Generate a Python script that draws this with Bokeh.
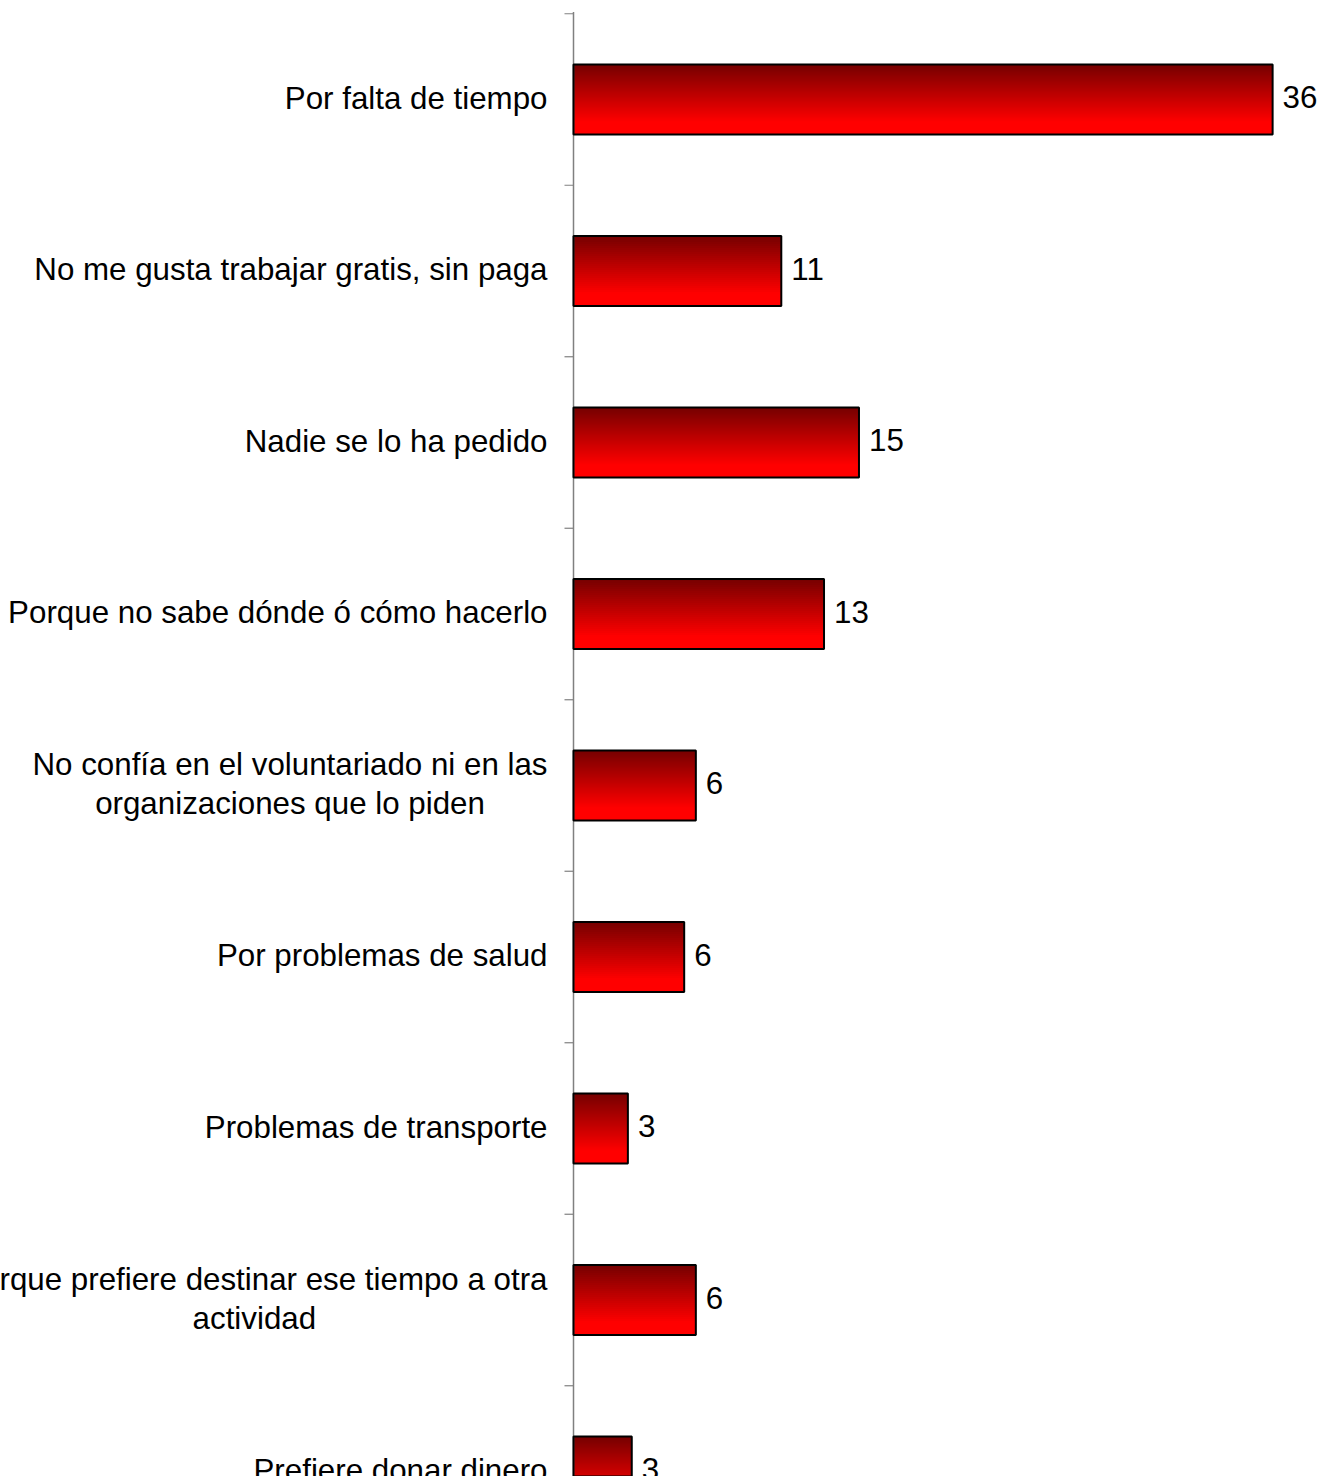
import numpy as np
from bokeh.plotting import figure
from bokeh.models import ColumnDataSource, Range1d
from bokeh.core.properties import value
from bokeh.embed import file_html
from bokeh.resources import INLINE

# ---------------- data ----------------
categories = [
    "Por falta de tiempo",
    "No me gusta trabajar gratis, sin paga",
    "Nadie se lo ha pedido",
    "Porque no sabe dónde ó cómo hacerlo",
    "No confía en el voluntariado ni en las\norganizaciones que lo piden",
    "Por problemas de salud",
    "Problemas de transporte",
    "Porque prefiere destinar ese tiempo a otra\nactividad",
    "Prefiere donar dinero",
]
values = [36.0, 10.7, 14.7, 12.9, 6.3, 5.7, 2.8, 6.3, 3.0]
value_labels = [f"{round(v)}" for v in values]

# ---------------- layout constants ----------------
W, H = 1321, 1476
PX_PER_UNIT = 19.42
AXIS_PX = 573
ROW_PX = 171.5
FIRST_CENTER_PX = 99
BAR_FRAC = 0.408
FONT = "Liberation Sans"
FS = 31.3
LABEL_GAP = 26
LINE_H = 39
BASE_OFF = -1.5

# Arial / Liberation Sans advance widths (per 1000 em)
CW = {' ': 278, ',': 278, '.': 278, 'a': 556, 'b': 556, 'c': 500, 'd': 556, 'e': 556,
      'f': 278, 'g': 556, 'h': 556, 'i': 222, 'j': 222, 'k': 500, 'l': 222, 'm': 833,
      'n': 556, 'o': 556, 'p': 556, 'q': 556, 'r': 333, 's': 500, 't': 278, 'u': 556,
      'v': 500, 'w': 722, 'x': 500, 'y': 500, 'z': 500, 'í': 278, 'ó': 556, 'á': 556,
      'é': 556, 'P': 667, 'N': 722}


def text_w(s):
    return sum(CW.get(c, 556) for c in s) / 1000 * FS


x_range = Range1d(-AXIS_PX / PX_PER_UNIT, (W - AXIS_PX) / PX_PER_UNIT)
y_range = Range1d((H - FIRST_CENTER_PX) / ROW_PX, -FIRST_CENTER_PX / ROW_PX)

p = figure(width=W, height=H, x_range=x_range, y_range=y_range,
           output_backend="svg", toolbar_location=None, min_border=0,
           x_axis_location=None, y_axis_location=None)
p.grid.visible = False
p.outline_line_color = None
p.background_fill_color = "white"
p.border_fill_color = "white"

idx = list(range(len(categories)))
n = len(categories)

# ---------------- gradient bars (overlapping strips, each reaching bar bottom) ----------------
N = 35
top_c = np.array([118, 0, 0])
bot_c = np.array([255, 0, 0])
g_top, g_bot, g_r, g_c = [], [], [], []
for i, v in zip(idx, values):
    y_top = i - BAR_FRAC / 2
    y_bot = i + BAR_FRAC / 2
    for k in range(N):
        t0 = k / N
        tc = (k + 0.5) / N
        f = min(tc / 0.82, 1.0)
        c = (top_c + (bot_c - top_c) * f).astype(int)
        g_top.append(y_top + t0 * BAR_FRAC)
        g_bot.append(y_bot)
        g_r.append(v)
        g_c.append("#%02x%02x%02x" % tuple(c))
p.quad(left=0, right=g_r, top=g_top, bottom=g_bot, fill_color=g_c, line_color=None)

# ---------------- axis line and ticks ----------------
p.segment(x0=[0], y0=[-0.51], x1=[0], y1=[n - 0.5], line_color="#808080", line_width=1.5)
bounds = [i - 0.5 for i in range(n + 1)]
p.ray(x=[0] * len(bounds), y=bounds, length=9, length_units="screen",
      angle=np.pi, line_color="#808080", line_width=1.2)

# outline of bars
p.hbar(y=idx, left=0, right=values, height=BAR_FRAC,
       fill_color=None, line_color="black", line_width=2)

# ---------------- value labels ----------------
p.text(x=values, y=idx, text=value_labels, x_offset=10, y_offset=BASE_OFF - 1,
       text_baseline="alphabetic", text_align="left",
       text_font=value(FONT), text_font_size=f"{FS}px", text_color="black")

# ---------------- category labels ----------------
s_y, s_t = [], []
m_y, m_t, m_xo, m_yo = [], [], [], []
for i, cat in zip(idx, categories):
    lines = cat.split("\n")
    if len(lines) == 1:
        s_y.append(i)
        s_t.append(cat)
    else:
        maxw = max(text_w(l) for l in lines)
        L = len(lines)
        for j, ln in enumerate(lines):
            m_y.append(i)
            m_t.append(ln)
            m_xo.append(-LABEL_GAP - maxw / 2)
            m_yo.append(BASE_OFF + (j - (L - 1) / 2) * LINE_H)

p.text(x=[0] * len(s_y), y=s_y, text=s_t, x_offset=-LABEL_GAP, y_offset=BASE_OFF,
       text_baseline="alphabetic", text_align="right",
       text_font=value(FONT), text_font_size=f"{FS}px", text_color="black")

msrc = ColumnDataSource(dict(x=[0] * len(m_y), y=m_y, text=m_t, xo=m_xo, yo=m_yo))
p.text(x="x", y="y", text="text", x_offset="xo", y_offset="yo", source=msrc,
       text_baseline="alphabetic", text_align="center",
       text_font=value(FONT), text_font_size=f"{FS}px", text_color="black")

open("out.html", "w").write(file_html(p, INLINE))
